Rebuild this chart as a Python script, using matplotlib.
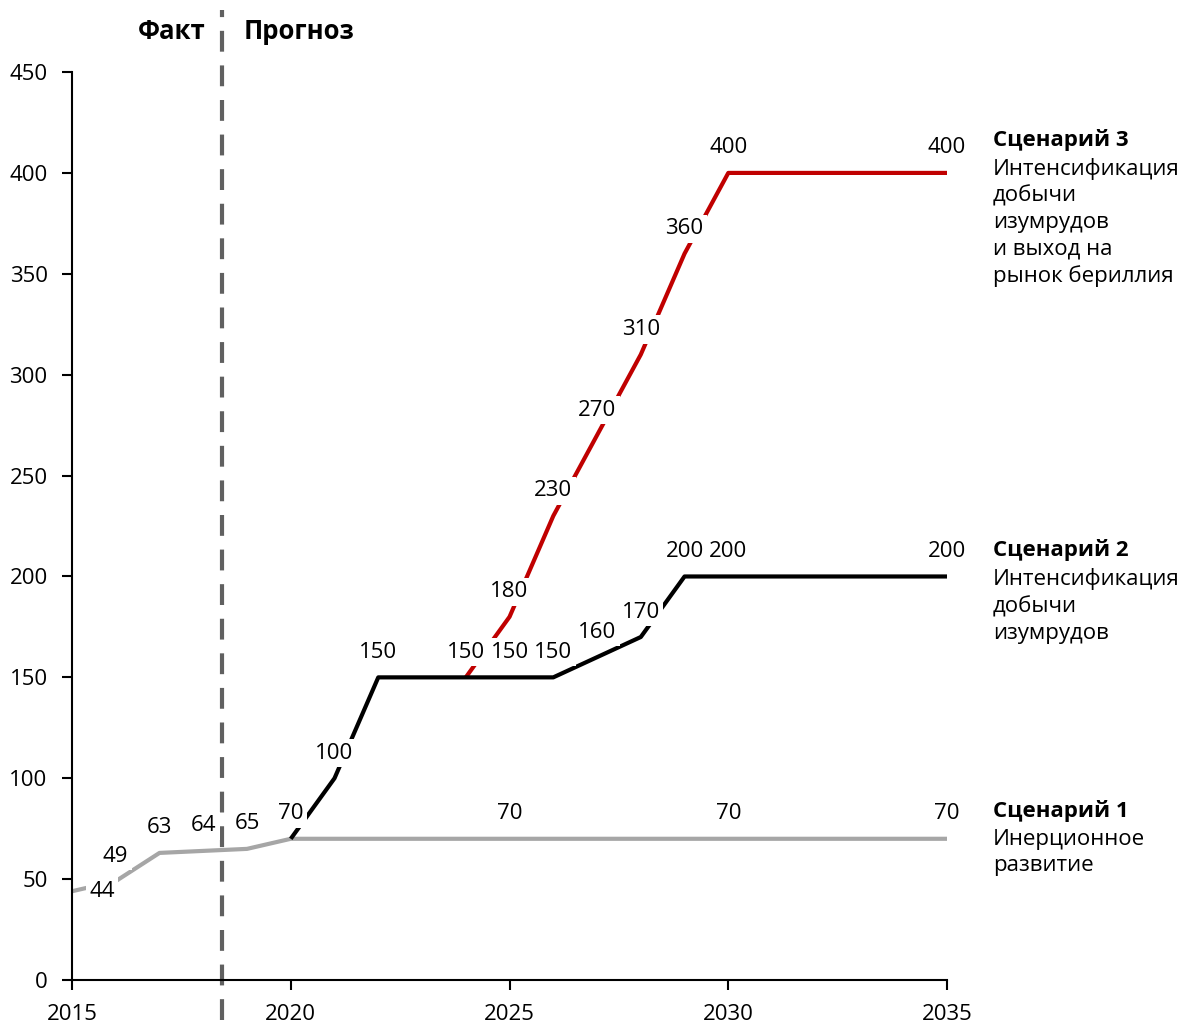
import matplotlib
matplotlib.use("Agg")
import matplotlib.pyplot as plt
from matplotlib.transforms import blended_transform_factory

plt.rcParams['font.family'] = ['Open Sans', 'DejaVu Sans']

# Scenario 1 - inertial development (grey)
s1_years = [2015, 2016, 2017, 2018, 2019, 2020, 2025, 2030, 2035]
s1_values = [44, 49, 63, 64, 65, 70, 70, 70, 70]

# Scenario 2 - more emerald mining (black)
s2_years = [2020, 2021, 2022, 2023, 2024, 2025, 2026, 2027, 2028, 2029, 2030, 2035]
s2_values = [70, 100, 150, 150, 150, 150, 150, 160, 170, 200, 200, 200]
s2_labeled = [2021, 2022, 2024, 2025, 2026, 2027, 2028, 2029, 2030, 2035]

# Scenario 3 - emeralds plus beryllium market (red)
s3_years = [2024, 2025, 2026, 2027, 2028, 2029, 2030, 2035]
s3_values = [150, 180, 230, 270, 310, 360, 400, 400]
s3_labeled = [2025, 2026, 2027, 2028, 2029, 2030, 2035]

x_ticks = [2015, 2020, 2025, 2030, 2035]
y_ticks = [0, 50, 100, 150, 200, 250, 300, 350, 400, 450]
split_year = 2018.43

scenario_titles = ["Сценарий 1", "Сценарий 2", "Сценарий 3"]
scenario_notes = ["Инерционное\nразвитие",
                  "Интенсификация\nдобычи\nизумрудов",
                  "Интенсификация\nдобычи\nизумрудов\nи выход на\nрынок бериллия"]
scenario_end = [s1_values[-1], s2_values[-1], s3_values[-1]]
title_shift = [28, 26, 33]  # pixels above the last point

fs = 16

fig = plt.figure(figsize=(11.88, 10.26), dpi=100)
ax = fig.add_axes([0.0606, 0.0448, 0.7366, 0.885])

ax.plot(s1_years, s1_values, color="#A6A6A6", lw=3, zorder=2, solid_capstyle="butt")
ax.plot(s2_years, s2_values, color="black", lw=3, zorder=3, solid_capstyle="butt")
ax.plot(s3_years, s3_values, color="#C00000", lw=3, zorder=2.5, solid_capstyle="butt")

box = dict(facecolor="white", edgecolor="none", pad=2.5)


def put_label(x, y, dx=0, dy=25):
    ax.annotate(str(y), xy=(x, y), xytext=(dx, dy), textcoords="offset pixels",
                ha="center", va="center", fontsize=fs, bbox=box, zorder=5,
                annotation_clip=False)


for x, y in zip(s1_years, s1_values):
    if x == 2015:
        put_label(x, y, dx=30, dy=0)
    else:
        put_label(x, y)
for x, y in zip(s2_years, s2_values):
    if x in s2_labeled:
        put_label(x, y)
for x, y in zip(s3_years, s3_values):
    if x in s3_labeled:
        put_label(x, y)

# scenario captions to the right of the plot
for title, note, v, sh in zip(scenario_titles, scenario_notes, scenario_end, title_shift):
    ax.annotate(title, xy=(2035, v), xytext=(46, sh), textcoords="offset pixels",
                ha="left", va="center", fontsize=fs, fontweight="bold",
                annotation_clip=False)
    ax.annotate(note, xy=(2035, v), xytext=(46, sh - 18), textcoords="offset pixels",
                ha="left", va="top", fontsize=fs, linespacing=1.34,
                annotation_clip=False)

# fact / forecast divider
trans = blended_transform_factory(ax.transData, fig.transFigure)
ax.plot([split_year, split_year], [0.006, 0.99], transform=trans, clip_on=False,
        color="#606060", lw=3, dashes=(5, 3.3), zorder=1)
ax.text(split_year - 0.38, 0.969, "Факт", transform=trans, ha="right", va="center",
        fontsize=18.5, fontweight="bold")
ax.text(split_year + 0.5, 0.969, "Прогноз", transform=trans, ha="left", va="center",
        fontsize=18.5, fontweight="bold")

ax.set_xlim(2015, 2035)
ax.set_ylim(0, 450)
ax.set_xticks(x_ticks)
ax.set_yticks(y_ticks)
ax.tick_params(labelsize=fs, width=1.5, length=7)
ax.tick_params(axis="x", pad=10.5)
ax.tick_params(axis="y", pad=10.5)
ax.spines["top"].set_visible(False)
ax.spines["right"].set_visible(False)
ax.spines["left"].set_linewidth(1.5)
ax.spines["bottom"].set_linewidth(1.5)

fig.savefig("out.png", dpi=100)
